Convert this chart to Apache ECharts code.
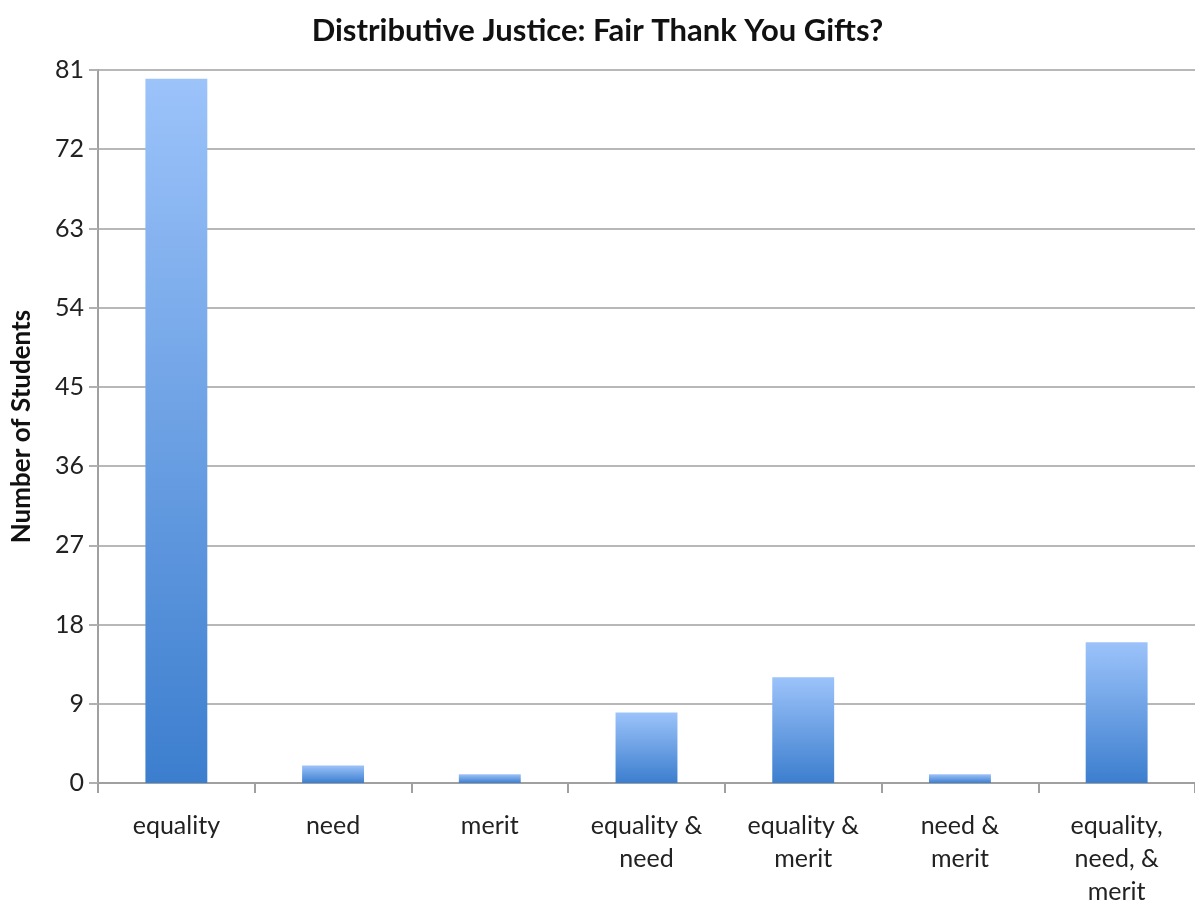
<!DOCTYPE html>
<html>
<head>
<meta charset="utf-8">
<script src="https://cdn.jsdelivr.net/npm/echarts@6/dist/echarts.min.js"></script>
<style>
  html, body { margin: 0; padding: 0; background: #fff; }
  #container { width: 1195px; height: 903px; }
</style>
</head>
<body>
<div id="container"></div>
<script>
var categories = ['equality', 'need', 'merit', 'equality &\nneed', 'equality &\nmerit', 'need &\nmerit', 'equality,\nneed, &\nmerit'];
var students = [80, 2, 1, 8, 12, 1, 16];

var myChart = echarts.init(document.getElementById('container'));
var font = 'Lato, "Open Sans", sans-serif';

var option = {
    backgroundColor: '#ffffff',
    animation: false,
    title: {
        text: 'Distributive Justice: Fair Thank You Gifts?',
        left: 'center',
        top: 10,
        textStyle: { fontFamily: font, fontSize: 31, fontWeight: 'bold', color: '#111' }
    },
    grid: { left: 98, right: 0, top: 70, bottom: 120, outerBoundsMode: 'none', containLabel: false },
    xAxis: {
        type: 'category',
        data: categories,
        axisLine: { lineStyle: { color: '#a0a0a0', width: 2 } },
        axisTick: { show: true, length: 10, lineStyle: { color: '#a0a0a0', width: 2 } },
        axisLabel: { fontFamily: font, fontSize: 25, color: '#222', margin: 26, lineHeight: 33, interval: 0 }
    },
    yAxis: {
        type: 'value',
        min: 0,
        max: 81,
        interval: 9,
        name: 'Number of Students',
        nameLocation: 'middle',
        nameGap: 63,
        nameTextStyle: { fontFamily: font, fontSize: 26, fontWeight: 'bold', color: '#111' },
        axisLine: { show: true, lineStyle: { color: '#a0a0a0', width: 2 } },
        axisTick: { show: true, length: 9, lineStyle: { color: '#b0b0b0', width: 2 } },
        axisLabel: { fontFamily: font, fontSize: 25, color: '#222', margin: 14 },
        splitLine: { lineStyle: { color: '#b8b8b8', width: 2 } }
    },
    series: [{
        name: 'Number of Students',
        type: 'bar',
        data: students,
        barWidth: '39.5%',
        itemStyle: {
            color: new echarts.graphic.LinearGradient(0, 0, 0, 1, [
                { offset: 0, color: '#9cc3fa' },
                { offset: 1, color: '#3c7ece' }
            ])
        }
    }]
};

myChart.setOption(option);
</script>
</body>
</html>
